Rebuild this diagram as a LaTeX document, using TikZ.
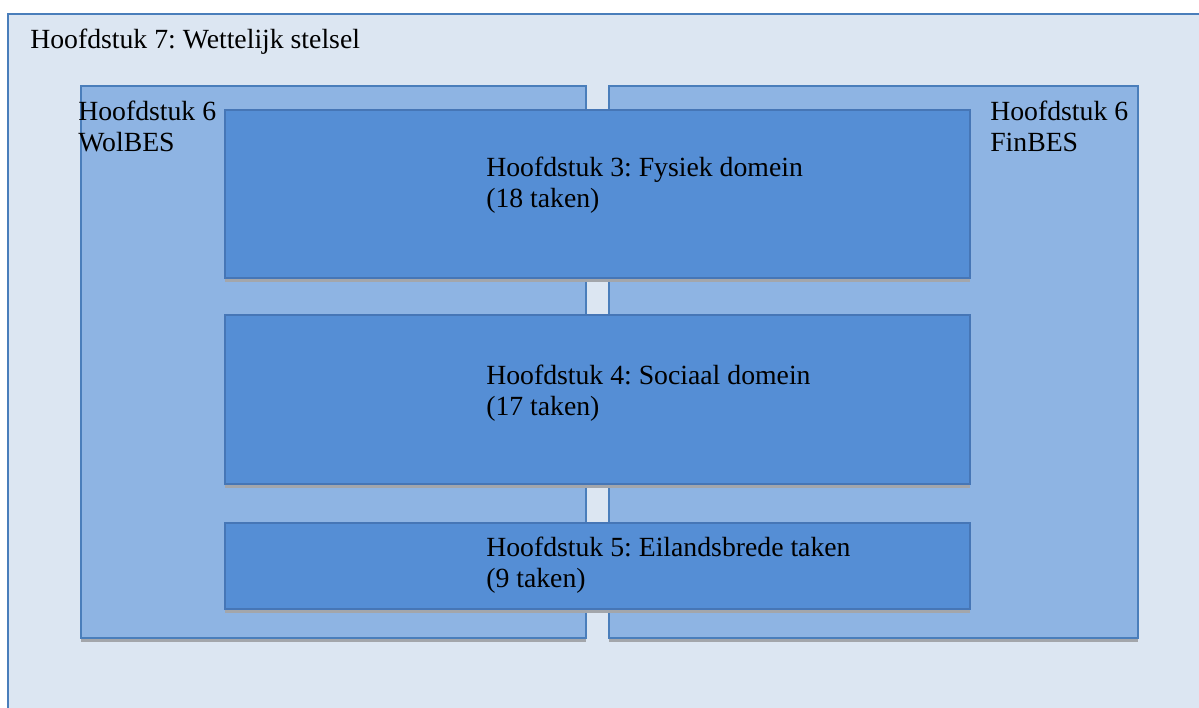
\documentclass[tikz,border=0pt]{standalone}
\usepackage{fontspec}
\setmainfont{Liberation Serif}
\usetikzlibrary{positioning,fit,shadows}
\definecolor{hsLight}{HTML}{DCE6F2}
\definecolor{hsPanel}{HTML}{8EB4E3}
\definecolor{hsBox}{HTML}{558ED5}
\definecolor{hsLine}{HTML}{4A7EBB}
\definecolor{hsBoxLine}{HTML}{4676B6}
\definecolor{hsShadow}{HTML}{A3A6AB}

\begin{document}
\frenchspacing
\begin{tikzpicture}[x=0.75pt, y=-0.75pt,
    hs shadow/.style={drop shadow={shadow xshift=0pt, shadow yshift=-3.2pt, fill=hsShadow, opacity=1}},
    hs frame/.style={rectangle, draw=hsLine, line width=1pt, fill=hsLight, inner sep=0pt},
    hs panel/.style={rectangle, draw=hsLine, line width=1.3pt, fill=hsPanel, inner sep=0pt, hs shadow},
    hs box/.style={rectangle, draw=hsBoxLine, line width=1.3pt, fill=hsBox, inner sep=0pt, hs shadow},
    hs text/.style={anchor=base west, align=left, inner sep=0pt, font=\fontsize{20.8}{23.2}\selectfont}]

    \useasboundingbox (0,0) rectangle (1199,707);
    \clip (0,0) rectangle (1199,707);

    \node [hs frame, fit={(8,14) (1220,720)}] (stelsel) {};
    \node [hs text] (stelseltxt) at (30,48) {Hoofdstuk 7: Wettelijk stelsel};

    \node [hs panel, fit={(81,86) (586,638)}] (wolbes) {};
    \node [hs panel, fit={(609,86) (1138,638)}] (finbes) {};
    % base anchor sits on the last line
    \node [hs text] (wolbestxt) at (78,151) {Hoofdstuk 6\\WolBES};
    \node [hs text] (finbestxt) at (990,151) {Hoofdstuk 6\\FinBES};

    \node [hs box, fit={(225,110) (970,278)}] (fysiek) {};
    \node [hs box, fit={(225,315) (970,484)}] (sociaal) {};
    \node [hs box, fit={(225,523) (970,609)}] (eiland) {};

    \node [hs text] (fysiektxt) at (486,207) {Hoofdstuk 3: Fysiek domein\\(18 taken)};
    \node [hs text] (sociaaltxt) at (486,415) {Hoofdstuk 4: Sociaal domein\\(17 taken)};
    \node [hs text] (eilandtxt) at (486,587) {Hoofdstuk 5: Eilandsbrede taken\\(9 taken)};

\end{tikzpicture}
\end{document}
